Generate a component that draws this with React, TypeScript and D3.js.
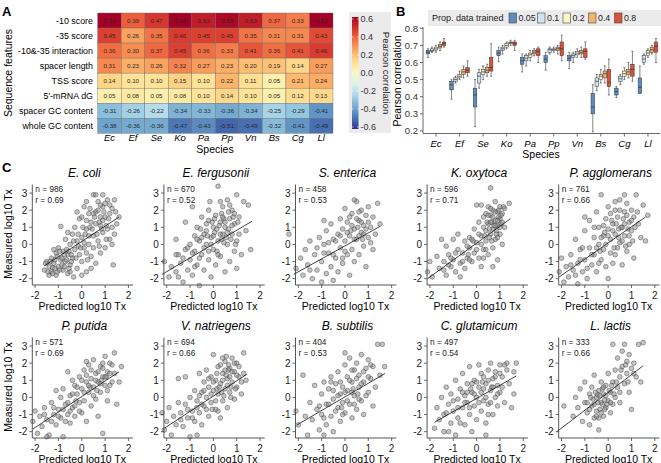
import React from 'react';
import * as d3 from 'd3';

// ---- panel A: feature / species correlations
const species = ['Ec', 'Ef', 'Se', 'Ko', 'Pa', 'Pp', 'Vn', 'Bs', 'Cg', 'Ll'];
const features = ['-10 score', '-35 score', '-10&-35 interaction', 'spacer length', 'TSS score', "5'-mRNA dG", 'spacer GC content', 'whole GC content'];
const corr10 = [0.60, 0.39, 0.47, 0.60, 0.53, 0.58, 0.53, 0.37, 0.33, 0.62];
const corr35 = [0.45, 0.26, 0.35, 0.46, 0.45, 0.45, 0.35, 0.31, 0.31, 0.43];
const corrInter = [0.36, 0.30, 0.37, 0.45, 0.36, 0.33, 0.41, 0.36, 0.41, 0.46];
const corrSpacer = [0.31, 0.23, 0.26, 0.32, 0.27, 0.23, 0.20, 0.19, 0.14, 0.27];
const corrTSS = [0.14, 0.10, 0.10, 0.15, 0.10, 0.22, 0.11, 0.05, 0.21, 0.24];
const corrDG = [0.05, 0.08, 0.05, 0.08, 0.10, 0.14, 0.10, 0.05, 0.12, 0.13];
const corrSpacerGC = [-0.31, -0.26, -0.22, -0.34, -0.33, -0.36, -0.34, -0.25, -0.29, -0.41];
const corrWholeGC = [-0.38, -0.36, -0.36, -0.47, -0.43, -0.51, -0.49, -0.32, -0.41, -0.49];
const corrRows = [corr10, corr35, corrInter, corrSpacer, corrTSS, corrDG, corrSpacerGC, corrWholeGC];
const barTicks = [0.6, 0.4, 0.2, 0.0, -0.2, -0.4, -0.6];

// ---- panel B: [min, q1, median, q3, max] per training proportion
const props = ['0.05', '0.1', '0.2', '0.4', '0.8'];
const propColors = ['#5d8dbf', '#cfe4f1', '#fbf6c8', '#f3b46e', '#d9533a'];
const boxEc = [[0.63, 0.65, 0.66, 0.67, 0.68], [0.66, 0.665, 0.67, 0.68, 0.69], [0.66, 0.67, 0.68, 0.69, 0.70], [0.67, 0.685, 0.695, 0.705, 0.72], [0.69, 0.70, 0.71, 0.72, 0.74]];
const boxEf = [[0.385, 0.44, 0.47, 0.49, 0.50], [0.48, 0.49, 0.50, 0.51, 0.52], [0.50, 0.51, 0.52, 0.53, 0.55], [0.51, 0.53, 0.545, 0.56, 0.58], [0.52, 0.54, 0.555, 0.57, 0.61]];
const boxSe = [[0.225, 0.34, 0.41, 0.45, 0.50], [0.45, 0.48, 0.52, 0.54, 0.56], [0.50, 0.53, 0.545, 0.56, 0.58], [0.52, 0.54, 0.555, 0.57, 0.59], [0.52, 0.55, 0.57, 0.63, 0.71]];
const boxKo = [[0.605, 0.64, 0.655, 0.67, 0.69], [0.65, 0.67, 0.68, 0.69, 0.70], [0.68, 0.69, 0.70, 0.71, 0.72], [0.70, 0.71, 0.715, 0.72, 0.73], [0.67, 0.70, 0.71, 0.72, 0.73]];
const boxPa = [[0.545, 0.59, 0.61, 0.63, 0.65], [0.58, 0.61, 0.625, 0.64, 0.65], [0.61, 0.63, 0.645, 0.655, 0.67], [0.64, 0.65, 0.66, 0.67, 0.68], [0.60, 0.64, 0.665, 0.68, 0.69]];
const boxPp = [[0.555, 0.60, 0.62, 0.64, 0.66], [0.65, 0.66, 0.675, 0.68, 0.69], [0.66, 0.67, 0.675, 0.68, 0.69], [0.65, 0.67, 0.68, 0.69, 0.70], [0.61, 0.64, 0.68, 0.72, 0.76]];
const boxVn = [[0.565, 0.61, 0.625, 0.64, 0.66], [0.60, 0.63, 0.64, 0.65, 0.66], [0.63, 0.645, 0.655, 0.665, 0.68], [0.63, 0.65, 0.66, 0.67, 0.69], [0.62, 0.63, 0.665, 0.68, 0.72]];
const boxBs = [[0.195, 0.30, 0.34, 0.42, 0.47], [0.435, 0.46, 0.49, 0.51, 0.53], [0.48, 0.50, 0.52, 0.53, 0.56], [0.48, 0.51, 0.535, 0.55, 0.58], [0.41, 0.46, 0.485, 0.56, 0.62]];
const boxCg = [[0.395, 0.41, 0.43, 0.45, 0.46], [0.47, 0.49, 0.505, 0.52, 0.53], [0.50, 0.52, 0.535, 0.55, 0.57], [0.51, 0.53, 0.545, 0.56, 0.60], [0.49, 0.52, 0.56, 0.59, 0.665]];
const boxLl = [[0.42, 0.42, 0.455, 0.51, 0.58], [0.59, 0.60, 0.62, 0.64, 0.65], [0.63, 0.64, 0.655, 0.67, 0.68], [0.65, 0.66, 0.675, 0.69, 0.70], [0.60, 0.66, 0.695, 0.72, 0.74]];
const boxes = [boxEc, boxEf, boxSe, boxKo, boxPa, boxPp, boxVn, boxBs, boxCg, boxLl];
const bTicks = [0.2, 0.3, 0.4, 0.5, 0.6, 0.7, 0.8];

// ---- panel C: predicted vs measured
const scatterNames = ['E. coli', 'E. fergusonii', 'S. enterica', 'K. oxytoca', 'P. agglomerans', 'P. putida', 'V. natriegens', 'B. subtilis', 'C. glutamicum', 'L. lactis'];
const scatterN = [986, 670, 458, 596, 761, 571, 694, 404, 497, 333];
const scatterR = ['0.69', '0.52', '0.53', '0.71', '0.66', '0.69', '0.66', '0.53', '0.54', '0.66'];
// regression line end points [x0, y0, x1, y1]
const fitLines = [
  [-1.6, -1.25, 1.6, 1.6], [-2.2, -1.75, 1.65, 1.35], [-2.2, -1.75, 1.5, 1.05], [-2.1, -2.0, 1.45, 1.5], [-2.1, -1.9, 1.6, 1.6],
  [-2.1, -1.85, 1.6, 1.5], [-2.1, -1.8, 1.43, 1.35], [-2.05, -1.6, 1.72, 1.4], [-1.8, -1.45, 1.7, 1.25], [-2.2, -2.0, 1.5, 1.85],
];
// flat x,y pairs
const ptsEcoli = [-1.6,-1.5,-1.5,-1.0,-1.4,-1.3,-1.3,-0.8,-1.3,-1.6,-1.2,-1.1,-1.1,-0.5,-1.1,-1.8,-1.0,-1.3,-1.0,-0.2,-0.9,1.05,-0.9,-0.9,-0.8,-1.5,-0.8,-0.4,-0.7,-1.0,-0.7,0.3,-0.6,-1.7,-0.6,-0.6,-0.5,0.0,-0.5,-1.2,-0.4,0.6,-0.4,-0.8,-0.3,-0.3,-0.3,1.0,-0.2,-1.4,-0.2,0.2,-0.1,-0.6,-0.1,1.5,0.0,0.4,0.0,-1.0,0.1,2.2,0.1,-0.2,0.2,0.9,0.2,-1.6,0.3,1.8,0.3,0.0,0.4,-0.7,0.4,1.3,0.5,2.9,0.5,0.5,0.6,-1.1,0.6,1.9,0.7,2.5,0.7,0.2,0.8,1.1,0.8,-0.5,0.9,2.2,0.9,0.7,1.0,1.6,1.0,-0.2,1.1,2.6,1.1,0.9,1.2,1.8,1.2,0.3,1.3,2.1,1.35,-1.2,1.4,2.6,1.5,1.2,1.6,1.6,-1.4,-1.8,-1.2,-0.3,-0.5,-1.6,0.0,-1.8,0.2,2.5,0.6,2.9,0.9,2.9,1.4,0.6,-0.2,1.9,0.4,-1.4,0.8,1.6,-1.25,-1.35,-1.05,-1.6,-0.85,-1.2,-0.65,-0.3,-0.45,-1.0,-0.15,-0.1,0.15,0.6,0.35,1.0,0.55,1.6,0.75,1.3,0.95,1.9,1.05,0.3,0.25,-0.9,-0.35,-1.9,
  -1.55,-1.1,-1.45,-1.6,-1.35,-1.0,-1.25,-1.7,-1.15,-0.9,-1.15,-1.4,-1.05,-0.7,-0.95,-1.5,-0.95,-0.4,-0.85,-0.8,-0.75,-1.3,-0.75,-0.6,-0.65,-0.9,-0.55,-0.4,-0.55,-1.4,-0.45,-0.6,-0.35,0.2,-0.25,-0.8,-0.15,0.6,-0.05,-0.2,0.05,1.0,0.1,0.1,0.2,1.4,0.3,0.5,0.35,2.1,0.45,0.9,0.5,1.8,0.6,1.2,0.65,0.6,0.7,2.0,0.8,2.3,0.85,0.9,0.9,1.4,1.0,2.4,1.05,1.1,1.15,1.5,1.2,2.3,1.3,1.0,1.3,0.0,1.45,1.9,0.5,-0.2,0.75,-0.1,0.2,-0.5,-0.6,0.7,0.0,1.6];
const ptsEfergusonii = [-2.1,-1.0,-1.9,-1.9,-1.8,-1.3,-1.6,0.3,-1.6,-1.6,-1.5,-0.6,-1.4,-1.1,-1.3,-2.2,-1.2,1.3,-1.2,-0.3,-1.1,-1.5,-1.0,0.0,-1.0,-0.9,-0.9,-1.8,-0.8,0.5,-0.8,-0.4,-0.7,1.0,-0.7,-1.2,-0.6,0.2,-0.6,-2.4,-0.5,1.6,-0.5,-0.6,-0.4,0.6,-0.4,-1.5,-0.3,0.0,-0.3,1.2,-0.2,-0.9,-0.2,2.0,-0.1,0.4,-0.1,-1.9,0.0,1.0,0.0,-0.3,0.1,1.7,0.1,-1.2,0.2,0.2,0.2,3.4,0.3,1.3,0.3,-0.7,0.4,2.2,0.4,0.6,0.5,-1.6,0.5,1.0,0.6,2.6,0.6,0.0,0.7,1.5,0.7,-1.0,0.8,2.0,0.8,0.6,0.9,1.2,0.9,-0.4,1.0,2.9,1.0,0.2,1.1,1.6,1.2,-0.6,1.3,2.5,1.4,0.8,1.5,2.3,1.6,-0.3,1.0,-1.4,-0.9,2.2,-1.6,-0.6,0.3,2.5,-0.2,1.4,-0.55,0.9,-0.25,0.5,0.05,0.7,0.35,0.3,0.45,1.5,0.65,0.9,-0.05,1.3,0.15,-0.4,0.55,0.4,0.85,1.6,
  -1.3,-0.8,-1.1,-0.2,-0.9,-0.5,-0.7,0.3,-0.6,-0.8,-0.5,0.4,-0.4,-0.2,-0.3,0.8,-0.2,-0.4,-0.1,0.0,0.0,0.5,0.05,1.5,0.15,0.9,0.2,-0.6,0.3,0.6,0.35,1.8,0.45,0.1,0.5,1.3,0.6,0.7,0.65,1.9,0.75,0.3,0.8,1.1,0.9,1.8,0.95,0.0,1.05,1.3,1.1,0.6,0.7,2.3,0.4,1.6,-0.15,2.5,0.25,1.1,-0.8,-1.3,-1.5,-1.9];
const ptsSenterica = [-2.4,0.6,-2.1,-1.4,-1.9,-0.8,-1.8,-1.8,-1.7,-0.3,-1.6,-1.2,-1.5,0.2,-1.4,-2.0,-1.3,-0.6,-1.2,-1.5,-1.1,0.4,-1.0,-1.0,-1.0,-2.2,-0.9,0.0,-0.8,-1.7,-0.8,0.8,-0.7,-0.5,-0.6,-1.3,-0.6,1.2,-0.5,0.3,-0.5,-2.1,-0.4,-0.8,-0.3,0.6,-0.3,-1.6,-0.2,1.5,-0.2,-0.2,-0.1,0.9,-0.1,-1.1,0.0,0.2,0.0,2.1,0.1,-0.6,0.1,1.3,0.2,0.5,0.2,-1.8,0.3,1.8,0.3,-0.3,0.4,0.9,0.4,-1.0,0.5,2.5,0.5,0.3,0.6,1.4,0.6,-0.6,0.7,0.7,0.7,2.0,0.8,-0.1,0.8,1.1,0.9,1.7,0.9,-1.3,1.0,0.4,1.0,2.2,1.1,1.0,1.2,-0.3,1.2,1.6,1.3,0.6,1.4,2.4,1.5,1.2,-1.5,-1.5,0.4,2.6,-0.9,1.4,0.25,0.8,0.55,1.0,0.75,0.3,
  -1.2,-0.2,-0.9,-0.5,-0.7,0.1,-0.5,-0.6,-0.4,0.2,-0.2,0.5,0.0,-0.4,0.1,0.7,0.3,1.1,0.4,0.3,0.5,1.5,0.6,0.5,0.7,1.3,0.8,0.6,0.9,0.9,1.0,1.3,1.1,0.1,0.2,1.6,-0.1,-0.8,0.6,1.9];
const ptsKoxytoca = [-2.1,-1.6,-2.0,-1.0,-1.9,-1.9,-1.7,-0.7,-1.6,-1.4,-1.5,0.3,-1.4,-1.0,-1.3,-0.1,-1.3,-1.8,-1.2,-0.6,-1.1,-1.3,-1.0,0.3,-1.0,-0.9,-0.9,-1.6,-0.8,-0.3,-0.8,0.6,-0.7,-1.1,-0.6,-0.5,-0.5,0.2,-0.5,-1.4,-0.4,-0.8,-0.3,0.4,-0.3,-0.2,-0.2,-1.0,-0.1,0.9,-0.1,-0.5,0.0,2.3,0.0,0.1,0.1,-0.8,0.1,1.3,0.2,0.5,0.2,-1.3,0.3,1.0,0.3,-0.3,0.4,1.8,0.4,0.2,0.5,2.2,0.5,-0.6,0.5,1.2,0.6,0.6,0.6,3.3,0.6,1.7,0.7,-0.2,0.7,2.0,0.7,0.9,0.8,1.4,0.8,0.3,0.8,2.5,0.9,1.1,0.9,-0.9,0.9,1.9,1.0,0.6,1.0,2.2,1.0,1.5,1.1,0.0,1.1,1.8,1.2,1.0,1.2,2.1,1.4,2.4,0.2,2.3,-0.7,-1.9,0.7,-1.3,0.3,1.6,0.4,0.8,0.65,1.3,0.85,0.8,0.95,1.6,1.05,1.2,0.55,0.4,-0.35,-0.6,-0.15,0.2,
  0.35,0.5,0.45,1.3,0.55,0.9,0.6,1.3,0.65,0.2,0.7,1.6,0.75,1.1,0.8,1.9,0.85,0.6,0.9,1.4,0.95,2.0,1.0,1.0,1.05,1.7,1.1,1.3,1.15,2.2,0.5,1.7,0.6,2.1,0.8,1.1,0.9,0.4,0.4,-0.3,0.2,0.0,0.0,-0.3,-0.2,0.3,-0.4,-0.1,-0.6,-1.0,-0.9,-0.5,-1.1,-0.8,-1.4,-1.5,-1.2,-1.2,-0.3,-0.9,0.1,0.6,0.3,-0.8];
const ptsPagglomerans = [-2.1,-1.6,-2.0,-0.8,-1.9,-2.2,-1.8,-1.3,-1.7,-1.9,-1.6,-0.6,-1.5,-1.5,-1.4,0.3,-1.3,-1.1,-1.3,-2.3,-1.2,-0.3,-1.1,-1.6,-1.0,0.8,-1.0,-0.9,-0.9,-2.0,-0.8,-0.2,-0.8,1.4,-0.7,-1.2,-0.6,0.4,-0.6,-0.6,-0.5,1.9,-0.5,-1.6,-0.4,0.0,-0.4,1.0,-0.3,-0.9,-0.3,2.9,-0.2,0.5,-0.2,-0.3,-0.1,1.5,-0.1,-1.3,0.0,0.9,0.0,2.2,0.1,-0.5,0.1,0.3,0.2,1.2,0.2,-1.1,0.3,2.0,0.3,0.6,0.4,-0.2,0.4,1.6,0.5,2.6,0.5,0.1,0.6,1.0,0.6,-1.2,0.7,1.9,0.7,0.5,0.8,2.4,0.8,-0.4,0.9,1.3,0.9,0.0,1.0,2.0,1.0,0.8,1.1,1.6,1.1,-0.8,1.2,2.9,1.3,1.2,1.4,0.4,1.5,2.3,1.6,0.2,1.7,1.7,-1.0,1.6,0.0,-2.0,0.7,2.9,-0.15,0.7,0.15,1.4,0.45,0.9,0.65,1.5,0.25,-0.2,-0.35,-0.4,0.85,0.9,
  -1.6,-1.2,-1.4,-1.8,-1.2,-0.9,-1.1,-0.2,-0.9,-1.4,-0.7,-0.6,-0.5,-0.2,-0.4,-1.1,-0.3,0.4,-0.2,1.1,-0.1,0.0,0.0,0.5,0.1,1.8,0.2,0.8,0.3,-0.6,0.35,1.2,0.45,0.4,0.5,2.0,0.55,1.0,0.6,0.2,0.7,1.2,0.75,-0.1,0.8,1.7,0.9,0.5,1.0,1.4,1.05,0.2,1.15,1.0,1.25,1.9,0.3,2.5,-0.6,1.0];
const ptsPputida = [-2.1,-1.4,-2.0,-0.8,-1.9,-2.1,-1.8,-1.1,-1.7,-1.7,-1.6,-0.6,-1.5,-1.3,-1.4,-2.2,-1.3,-0.3,-1.2,-1.0,-1.1,0.4,-1.1,-1.6,-1.0,-0.7,-0.9,-1.2,-0.9,0.0,-0.8,0.5,-0.8,-2.3,-0.7,-0.4,-0.6,-1.0,-0.6,1.5,-0.5,0.1,-0.5,-1.5,-0.4,-0.6,-0.3,0.7,-0.3,-1.1,-0.2,0.2,-0.1,-0.3,-0.1,1.2,0.0,0.5,0.0,-0.9,0.1,1.6,0.1,-0.2,0.2,0.9,0.2,-1.4,0.3,0.3,0.3,1.9,0.4,1.1,0.4,-0.5,0.5,0.6,0.5,2.2,0.6,1.4,0.6,-0.1,0.7,0.9,0.7,-1.1,0.8,1.8,0.8,0.3,0.9,1.2,0.9,-2.1,1.0,2.4,1.0,0.7,1.1,1.5,1.1,-0.2,1.2,2.0,1.3,0.9,1.4,2.6,1.4,1.4,1.5,-0.4,1.6,0.9,1.7,1.8,-1.5,-2.3,0.2,2.1,-0.4,1.0,0.35,0.6,0.65,0.4,0.85,1.0,1.05,1.2,-0.25,-0.2,
  -1.6,-1.0,-1.3,-1.4,-1.2,-0.6,-1.0,-1.1,-0.8,-0.7,-0.7,-1.4,-0.6,-0.3,-0.5,-0.8,-0.4,0.2,-0.3,-0.5,-0.2,0.6,-0.1,-0.8,0.0,1.0,0.1,0.3,0.2,1.3,0.3,0.7,0.4,1.6,0.5,0.1,0.6,1.0,0.7,1.5,0.8,0.8,0.9,1.7,1.0,1.2,1.1,0.4,1.2,1.4,1.3,1.9,1.2,0.7,0.9,2.0];
const ptsVnatriegens = [-2.2,-0.9,-2.1,-1.9,-2.0,-1.4,-1.9,-0.6,-1.8,-2.2,-1.7,-1.1,-1.6,-1.6,-1.5,-0.3,-1.4,-0.9,-1.3,-1.7,-1.2,1.2,-1.2,-0.4,-1.1,-1.2,-1.0,0.0,-1.0,-2.3,-0.9,-0.8,-0.8,0.4,-0.8,-1.4,-0.7,-0.2,-0.6,1.4,-0.6,-0.9,-0.5,0.3,-0.5,-1.6,-0.4,0.9,-0.4,-0.5,-0.3,0.0,-0.3,1.6,-0.2,-1.1,-0.2,0.6,-0.1,-0.3,-0.1,1.2,0.0,0.4,0.0,2.5,0.1,-0.7,0.1,1.0,0.2,0.2,0.2,1.8,0.3,-1.2,0.3,0.8,0.4,1.4,0.4,-0.2,0.5,2.1,0.5,0.5,0.6,1.1,0.6,-0.6,0.7,1.7,0.7,0.3,0.8,2.3,0.8,0.9,0.9,-0.1,0.9,1.5,1.0,0.6,1.0,2.0,1.1,1.2,1.2,0.2,1.3,2.6,1.3,1.4,1.4,1.0,-1.5,1.1,0.4,2.3,-0.7,-2.2,0.35,0.3,0.55,1.3,0.75,0.6,0.15,0.5,-0.05,-0.7,0.65,1.6,
  -1.4,-1.3,-1.1,-0.7,-0.9,-1.2,-0.7,-0.6,-0.6,0.1,-0.5,-0.4,-0.4,0.4,-0.3,-0.7,-0.2,1.1,-0.1,0.2,0.0,0.9,0.1,-0.2,0.15,1.4,0.25,0.6,0.3,1.9,0.4,1.0,0.45,0.1,0.5,1.6,0.6,0.7,0.65,1.9,0.7,1.2,0.75,0.0,0.8,1.5,0.9,2.0,0.95,0.5,1.0,1.3,1.1,1.8,1.2,0.9,0.55,2.4,0.2,-0.8];
const ptsBsubtilis = [-2.1,-0.8,-2.0,-1.6,-1.8,1.3,-1.7,-1.1,-1.6,-2.2,-1.5,-0.3,-1.4,-1.3,-1.3,0.7,-1.2,-0.7,-1.1,-1.9,-1.0,0.2,-1.0,-1.0,-0.9,0.9,-0.8,-0.4,-0.8,-1.6,-0.7,0.5,-0.6,-1.1,-0.6,1.2,-0.5,-0.1,-0.5,-2.0,-0.4,0.8,-0.3,-0.6,-0.3,1.5,-0.2,0.2,-0.2,-1.4,-0.1,0.6,-0.1,-0.3,0.0,1.9,0.0,-0.9,0.1,0.4,0.1,1.2,0.2,-0.4,0.2,2.3,0.3,0.9,0.3,-1.2,0.4,0.1,0.4,1.6,0.5,-0.7,0.5,2.0,0.6,0.6,0.6,1.3,0.7,-0.2,0.7,2.5,0.8,0.9,0.8,-1.0,0.9,1.7,1.0,0.3,1.0,2.2,1.1,1.1,1.2,-0.5,1.2,1.8,1.3,0.6,1.4,3.1,1.5,1.3,1.6,3.1,1.7,1.8,-0.9,-2.2,0.0,2.6,0.35,0.5,0.55,0.2,-0.15,-0.6,
  -1.1,-0.5,-0.9,-1.2,-0.7,-0.4,-0.5,0.4,-0.4,-0.8,-0.3,0.1,-0.2,0.9,-0.1,-1.0,0.0,0.3,0.1,-0.2,0.2,1.0,0.3,0.3,0.4,-0.4,0.5,1.1,0.6,-0.1,0.7,0.8,0.8,1.5,0.9,0.1,1.0,1.2,1.1,1.9,0.3,1.6,-0.6,0.9];
const ptsCglutamicum = [-1.8,-1.8,-1.7,-0.6,-1.6,-1.3,-1.5,0.0,-1.4,-1.0,-1.4,-2.0,-1.3,0.6,-1.2,-0.4,-1.1,-1.5,-1.1,0.2,-1.0,-0.8,-0.9,1.0,-0.9,-2.2,-0.8,-0.1,-0.8,-1.2,-0.7,0.5,-0.6,-0.6,-0.6,1.4,-0.5,-1.6,-0.5,0.1,-0.4,-0.3,-0.4,0.8,-0.3,-1.0,-0.3,1.8,-0.2,0.3,-0.2,-2.0,-0.1,-0.5,-0.1,1.0,0.0,0.0,0.0,-1.3,0.1,0.6,0.1,1.9,0.2,-0.8,0.2,0.3,0.3,1.2,0.3,-0.2,0.4,-1.5,0.4,0.8,0.5,1.6,0.5,-0.4,0.6,0.4,0.6,2.0,0.7,-1.0,0.7,1.1,0.8,0.0,0.8,1.5,0.9,0.7,0.9,-0.5,1.0,1.9,1.0,0.3,1.1,1.2,1.2,-0.3,1.3,1.6,1.3,2.0,1.4,0.8,1.5,-0.6,1.6,1.5,1.7,2.0,1.6,0.2,0.4,-2.2,-1.2,-2.0,-0.25,0.5,0.25,0.9,0.65,0.6,
  -1.3,-0.9,-1.0,-0.2,-0.8,-0.6,-0.7,-1.5,-0.5,-0.3,-0.4,0.3,-0.3,-0.6,-0.2,0.8,-0.1,0.2,0.0,0.9,0.1,-0.3,0.2,1.4,0.3,0.5,0.4,0.0,0.5,1.0,0.6,-0.3,0.7,0.6,0.8,1.2,0.9,0.2,1.0,1.4,1.1,0.6,1.2,1.9,0.5,-1.0,-0.6,0.3];
const ptsLlactis = [-1.9,-0.5,-1.5,-1.1,-1.4,0.0,-1.3,-0.6,-1.2,0.5,-1.1,-1.4,-1.0,-0.3,-1.0,0.9,-0.9,-0.9,-0.8,0.2,-0.8,-1.6,-0.7,0.6,-0.7,-0.5,-0.6,-1.2,-0.6,1.3,-0.5,0.0,-0.5,-0.8,-0.4,0.4,-0.4,-1.9,-0.3,-0.3,-0.3,0.9,-0.2,-1.1,-0.2,0.2,-0.1,-0.6,-0.1,0.7,0.0,-0.2,0.0,1.4,0.1,-0.9,0.1,0.3,0.2,0.9,0.2,-0.4,0.3,1.6,0.3,0.0,0.4,2.3,0.4,0.6,0.5,1.2,0.5,-0.3,0.6,2.7,0.6,1.8,0.7,3.1,0.7,0.8,0.8,2.1,0.8,1.4,0.9,0.3,0.9,2.5,1.0,1.7,1.0,-0.7,1.1,2.0,1.2,1.2,1.3,3.1,1.4,0.9,1.5,3.2,0.2,3.1,-0.4,-1.2,-0.65,-0.1,-0.35,-0.7,-0.15,-0.15,-0.45,0.15,-0.25,0.5,
  -0.9,-0.3,-0.8,-0.7,-0.75,0.0,-0.6,-0.4,-0.55,0.3,-0.5,-1.1,-0.45,-0.3,-0.35,0.1,-0.3,-0.9,-0.25,-0.4,-0.2,0.6,-0.15,-0.7,-0.1,0.1,-0.05,-0.4,0.05,0.4,0.1,-0.3,0.15,0.7,0.25,0.2,0.35,0.9,0.5,0.3,0.55,1.6,0.75,1.9,0.85,0.9,1.1,1.4];
const scatterPts = [ptsEcoli, ptsEfergusonii, ptsSenterica, ptsKoxytoca, ptsPagglomerans, ptsPputida, ptsVnatriegens, ptsBsubtilis, ptsCglutamicum, ptsLlactis];
const xTicksC = [-2, -1, 0, 1, 2];
const yTicksC = [-2, -1, 0, 1, 2, 3];

const FONT = 'Liberation Sans, Arial, sans-serif';
const AXIS = '#444';

const heatColor = (v: number) => d3.interpolateRdYlBu((0.6 - v) / 1.2);

const HeatPanel = () => {
  const x = d3.scaleBand().domain(species).range([97.7, 333]);
  const y = d3.scaleBand().domain(features).range([13, 133.3]);
  const bar = d3.scaleLinear().domain([-0.6, 0.6]).range([127, 19]);
  const stops = d3.range(0, 1.001, 0.1);
  return (
    <g fontFamily={FONT}>
      <text x={2} y={16} fontSize={13} fontWeight="bold">A</text>
      <text transform="translate(12,73) rotate(-90)" textAnchor="middle" fontSize={10.5}>Sequence features</text>
      {features.map(f => (
        <text key={f} x={93} y={(y(f) || 0) + y.bandwidth() / 2 + 3.2} textAnchor="end" fontSize={8.9}>{f}</text>
      ))}
      {corrRows.map((row, i) => row.map((v, j) => (
        <g key={i + '-' + j}>
          <rect x={x(species[j])} y={y(features[i])} width={x.bandwidth()} height={y.bandwidth()}
            fill={heatColor(v)} stroke="#6b6b6b" strokeWidth={0.4} />
          <text x={(x(species[j]) || 0) + x.bandwidth() / 2} y={(y(features[i]) || 0) + y.bandwidth() / 2 + 2.2}
            textAnchor="middle" fontSize={6.2} fill="#2a2a2a">{v.toFixed(2)}</text>
        </g>
      )))}
      {species.map(s => (
        <text key={s} x={(x(s) || 0) + x.bandwidth() / 2} y={141} textAnchor="middle" fontSize={9.5} fontStyle="italic">{s}</text>
      ))}
      <text x={215} y={153} textAnchor="middle" fontSize={10.5}>Species</text>
      {/* colour bar legend */}
      <rect x={349} y={12} width={42} height={121} fill="#ebebeb" />
      <defs>
        <linearGradient id="cbar" x1="0" y1="1" x2="0" y2="0">
          {stops.map(t => <stop key={t} offset={t} stopColor={heatColor(-0.6 + t * 1.2)} />)}
        </linearGradient>
      </defs>
      <rect x={352} y={17} width={6.5} height={112} fill="url(#cbar)" />
      {barTicks.map(t => (
        <g key={t}>
          <line x1={352} x2={353.5} y1={bar(t)} y2={bar(t)} stroke="#fff" strokeWidth={0.6} />
          <line x1={357} x2={358.5} y1={bar(t)} y2={bar(t)} stroke="#fff" strokeWidth={0.6} />
          <text x={360.5} y={bar(t) + 3.3} fontSize={9} fill="#333">{t === 0 ? '0.0' : t.toFixed(1)}</text>
        </g>
      ))}
      <text transform="translate(383,73) rotate(90)" textAnchor="middle" fontSize={9.5} fill="#222">Pearson correlation</text>
    </g>
  );
};

const BoxPanel = () => {
  const x = d3.scaleBand().domain(species).range([424.2, 659.7]);
  const dodge = d3.scaleBand().domain(props).range([-9.8, 9.8]).paddingInner(0.12);
  const y = d3.scaleLinear().domain([0.185, 0.8]).range([133.5, 28.3]);
  const bw = dodge.bandwidth();
  const legendX = [509, 537.5, 563, 588.5, 614.5];
  return (
    <g fontFamily={FONT}>
      <text x={396} y={16} fontSize={13} fontWeight="bold">B</text>
      <rect x={428} y={10} width={233} height={16} fill="#ebebeb" />
      <text x={432} y={21.3} fontSize={9} fill="#222">Prop. data trained</text>
      {props.map((p, i) => (
        <g key={p}>
          <rect x={legendX[i]} y={13} width={7.5} height={10} fill={propColors[i]} stroke="#444" strokeWidth={0.6} />
          <text x={legendX[i] + 9.5} y={21.3} fontSize={8.8} fill="#222">{p}</text>
        </g>
      ))}
      <line x1={423} x2={423} y1={27} y2={133.5} stroke={AXIS} strokeWidth={0.8} />
      <line x1={423} x2={660} y1={133.5} y2={133.5} stroke={AXIS} strokeWidth={0.8} />
      {bTicks.map(t => (
        <g key={t}>
          <line x1={420} x2={423} y1={y(t)} y2={y(t)} stroke={AXIS} strokeWidth={0.8} />
          <text x={418} y={y(t) + 3.5} textAnchor="end" fontSize={9.5} fill="#333">{t.toFixed(1)}</text>
        </g>
      ))}
      <text transform="translate(401,81) rotate(-90)" textAnchor="middle" fontSize={10.5}>Pearson correlation</text>
      {species.map((s, i) => {
        const cx = (x(s) || 0) + x.bandwidth() / 2;
        return (
          <g key={s}>
            <line x1={cx} x2={cx} y1={133.5} y2={136.5} stroke={AXIS} strokeWidth={0.8} />
            <text x={cx} y={147} textAnchor="middle" fontSize={9.5} fontStyle="italic">{s}</text>
            {boxes[i].map((b, k) => {
              const bx = cx + (dodge(props[k]) || 0);
              const mx = bx + bw / 2;
              return (
                <g key={k}>
                  <line x1={mx} x2={mx} y1={y(b[0])} y2={y(b[4])} stroke="#333" strokeWidth={0.6} />
                  <line x1={mx - 1} x2={mx + 1} y1={y(b[0])} y2={y(b[0])} stroke="#333" strokeWidth={0.6} />
                  <line x1={mx - 1} x2={mx + 1} y1={y(b[4])} y2={y(b[4])} stroke="#333" strokeWidth={0.6} />
                  <rect x={bx} y={y(b[3])} width={bw} height={Math.max(0.8, y(b[1]) - y(b[3]))}
                    fill={propColors[k]} stroke="#333" strokeWidth={0.5} />
                  <line x1={bx} x2={bx + bw} y1={y(b[2])} y2={y(b[2])} stroke="#333" strokeWidth={0.7} />
                </g>
              );
            })}
          </g>
        );
      })}
      <text x={541} y={158} textAnchor="middle" fontSize={10.5}>Species</text>
    </g>
  );
};

const Scatter = ({ idx }: { idx: number }) => {
  const col = idx % 5;
  const row = Math.floor(idx / 5);
  const ax = 32.3 + col * 131.6;
  const dy = row * 153;
  const x = d3.scaleLinear().domain([-2.12, 2.2]).range([ax, ax + 100.8]);
  const y = d3.scaleLinear().domain([-2.37, 3.5]).range([285 + dy, 184.5 + dy]);
  const pts = scatterPts[idx];
  const pairs = d3.range(0, pts.length, 2).map(i => [pts[i], pts[i + 1]]);
  const fl = fitLines[idx];
  const line = d3.line<number[]>().x(d => x(d[0])).y(d => y(d[1]));
  return (
    <g fontFamily={FONT}>
      <text x={ax + 52} y={177 + dy} textAnchor="middle" fontSize={12} fontStyle="italic">{scatterNames[idx]}</text>
      {pairs.map((p, i) => (
        <circle key={i} cx={x(p[0])} cy={y(p[1])} r={2.35} fill="#8a8a8a" fillOpacity={0.5} stroke="#3a3a3a" strokeOpacity={0.8} strokeWidth={0.55} />
      ))}
      <path d={line([[fl[0], fl[1]], [fl[2], fl[3]]]) || ''} stroke="#111" strokeWidth={0.8} fill="none" />
      <line x1={ax} x2={ax} y1={184.5 + dy} y2={285 + dy} stroke={AXIS} strokeWidth={0.9} />
      <line x1={ax} x2={ax + 100.8} y1={285 + dy} y2={285 + dy} stroke={AXIS} strokeWidth={0.9} />
      {xTicksC.map(t => (
        <g key={t}>
          <line x1={x(t)} x2={x(t)} y1={285 + dy} y2={288 + dy} stroke={AXIS} strokeWidth={0.8} />
          <text x={x(t)} y={298.5 + dy} textAnchor="middle" fontSize={10} fill="#222">{t}</text>
        </g>
      ))}
      {yTicksC.map(t => (
        <g key={t}>
          <line x1={ax - 3} x2={ax} y1={y(t)} y2={y(t)} stroke={AXIS} strokeWidth={0.8} />
          <text x={ax - 5} y={y(t) + 3.5} textAnchor="end" fontSize={10} fill="#222">{t}</text>
        </g>
      ))}
      <text x={ax + 3} y={192 + dy} fontSize={8.3} fill="#222">n = {scatterN[idx]}</text>
      <text x={ax + 3} y={202.5 + dy} fontSize={8.3} fill="#222">r = {scatterR[idx]}</text>
      <text x={ax + 50} y={309.5 + dy} textAnchor="middle" fontSize={10.5}>Predicted log10 Tx</text>
      {col === 0 && (
        <text transform={`translate(12,${234 + dy}) rotate(-90)`} textAnchor="middle" fontSize={10.5}>Measured log10 Tx</text>
      )}
    </g>
  );
};

export default function App() {
  return (
    <svg width={661} height={463} style={{ position: 'absolute', left: 0, top: 0, background: '#fff' }}>
      <HeatPanel />
      <BoxPanel />
      <text x={2} y={172} fontSize={13} fontWeight="bold" fontFamily={FONT}>C</text>
      {scatterNames.map((_, i) => <Scatter key={i} idx={i} />)}
    </svg>
  );
}
